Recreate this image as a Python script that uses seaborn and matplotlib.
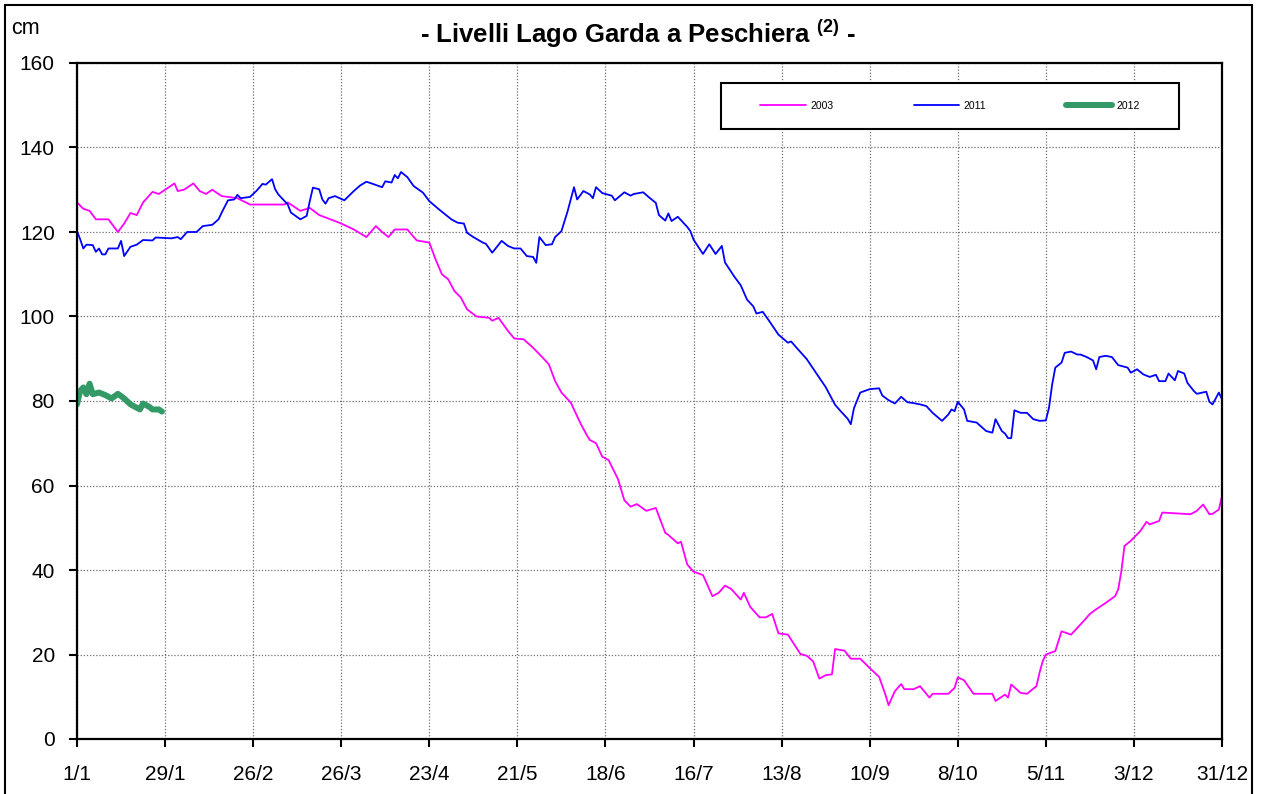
"""Livelli Lago Garda a Peschiera: confronto 2003 / 2011 / 2012."""

import matplotlib
matplotlib.use("Agg")
import matplotlib.pyplot as plt
from matplotlib.patches import Rectangle
import seaborn as sns

# Dati (giorno dell'anno, livello in cm)
days_2003 = [0, 2, 4, 6, 10, 13, 15, 17, 19, 21, 24, 26, 29, 31, 32, 34, 37, 39, 41, 43,
             46, 51, 55, 66, 67, 71, 74, 77, 82, 84, 88, 92, 95, 97, 99, 101, 105, 108,
             112, 114, 116, 118, 120, 122, 124, 127, 131, 132, 134, 137, 139, 142, 145,
             148, 150, 152, 154, 157, 160, 162, 163, 165, 167, 169, 172, 174, 176, 178,
             181, 184, 187, 188, 191, 192, 194, 196, 199, 202, 204, 206, 208, 211, 212,
             214, 217, 219, 221, 223, 226, 230, 232, 234, 236, 238, 240, 241, 244, 246,
             249, 252, 255, 257, 258, 260, 262, 263, 266, 268, 271, 272, 277, 279, 280,
             282, 285, 291, 292, 295, 296, 297, 300, 302, 305, 306, 307, 308, 311, 313,
             316, 318, 320, 322, 324, 327, 330, 331, 332, 333, 335, 338, 340, 341, 344,
             345, 354, 356, 358, 360, 361, 363, 364]
level_2003 = [127, 125.5, 125, 123, 123, 120, 122, 124.5, 124, 127, 129.5, 129, 130.5, 131.5,
              129.7, 130, 131.5, 129.7, 129, 130, 128.5, 128, 126.5, 126.5, 127, 125, 125.7,
              124, 122.6, 122, 120.6, 118.8, 121.4, 120, 118.8, 120.6, 120.6, 118, 117.5,
              113.5, 110, 108.8, 106, 104.5, 101.7, 100, 99.7, 99, 99.7, 96.6, 94.8, 94.6,
              92.6, 90.3, 88.7, 84.7, 82, 79.6, 74.8, 72, 70.8, 70, 66.8, 66, 61.5, 56.5, 55,
              55.6, 54, 54.7, 48.8, 48.3, 46.3, 46.7, 41.3, 39.6, 38.8, 33.8, 34.6, 36.3, 35.5,
              33, 34.6, 31.3, 28.8, 28.8, 29.6, 25, 24.7, 20.1, 19.7, 18.4, 14.3, 15.1, 15.3,
              21.3, 20.9, 19, 19, 16.8, 14.7, 10.5, 8, 11.3, 13, 11.8, 11.8, 12.5, 9.8, 10.7,
              10.7, 12.1, 14.6, 13.9, 10.7, 10.7, 9, 10.5, 9.8, 12.9, 10.9, 10.7, 12.5, 15.7,
              18.4, 20, 20.8, 25.5, 24.7, 26.3, 27.9, 29.6, 30.7, 32.2, 33.8, 35.4, 39.7, 45.7,
              46.9, 49.2, 51.4, 50.8, 51.6, 53.6, 53.2, 54, 55.5, 53.2, 53.3, 54.3, 57.5]

days_2011 = [0, 1, 2, 3, 5, 6, 7, 8, 9, 10, 13, 14, 15, 17, 19, 21, 24, 25, 30, 32, 33, 35,
             38, 40, 43, 45, 46, 48, 50, 51, 52, 55, 57, 59, 60, 62, 63, 64, 67, 68, 71, 73,
             74, 75, 77, 78, 79, 80, 82, 85, 88, 90, 92, 94, 97, 98, 100, 101, 102, 103, 105,
             107, 110, 112, 115, 117, 119, 121, 123, 124, 126, 129, 130, 132, 135, 137, 139,
             141, 143, 145, 146, 147, 149, 151, 152, 154, 156, 158, 159, 161, 163, 164, 165,
             167, 170, 171, 174, 176, 177, 180, 182, 184, 185, 187, 188, 189, 191, 194, 195,
             196, 199, 201, 203, 205, 206, 209, 211, 213, 215, 216, 218, 220, 223, 226, 227,
             229, 232, 235, 238, 241, 243, 245, 246, 247, 249, 252, 255, 256, 258, 260, 262,
             264, 266, 268, 270, 272, 275, 277, 278, 279, 280, 282, 283, 286, 289, 291, 292,
             294, 295, 296, 297, 298, 300, 302, 304, 306, 308, 309, 310, 311, 313, 314, 316,
             318, 319, 321, 323, 324, 325, 327, 329, 331, 333, 334, 335, 337, 339, 341, 343,
             344, 346, 347, 349, 350, 352, 353, 355, 356, 359, 360, 361, 363, 364]
level_2011 = [120.2, 118.3, 116.1, 117, 116.9, 115.3, 116.1, 114.7, 114.7, 116.1, 116.1, 117.9,
              114.3, 116.5, 117, 118.1, 118, 118.7, 118.5, 118.8, 118.3, 120, 120, 121.4, 121.7,
              123, 124.6, 127.5, 127.7, 128.8, 128, 128.3, 129.7, 131.4, 131.2, 132.5, 130.1,
              128.9, 126.5, 124.6, 123, 123.8, 127.3, 130.5, 130.1, 127.7, 126.7, 128, 128.5,
              127.5, 129.7, 131, 131.9, 131.4, 130.6, 132, 131.7, 133.5, 132.7, 134.2, 133,
              130.9, 129.3, 127.3, 125.4, 124.2, 123, 122.2, 122, 119.8, 118.8, 117.5, 117.2,
              115.1, 117.9, 116.7, 116.1, 116.1, 114.3, 114.1, 112.7, 118.8, 116.9, 117.1,
              118.8, 120.2, 125, 130.6, 127.7, 129.7, 128.9, 128, 130.6, 129.2, 128.6, 127.5,
              129.4, 128.6, 129, 129.4, 128.1, 126.9, 124, 122.7, 124.4, 122.6, 123.6, 121.2,
              120.2, 118.2, 114.8, 117.1, 114.8, 116.7, 112.8, 109.4, 107.4, 104, 102.4, 100.7,
              101.1, 99, 95.7, 93.8, 94.1, 92.4, 89.9, 86.6, 83.3, 79.1, 77.4, 75.8, 74.5,
              78.3, 82, 82.8, 83, 81.3, 80.2, 79.4, 81, 79.7, 79.5, 79.2, 78.8, 77.2, 75.3,
              76.8, 78, 77.6, 79.8, 78, 75.3, 74.9, 72.9, 72.5, 75.7, 72.9, 72.3, 71.2, 71.2,
              77.8, 77.2, 77.2, 75.7, 75.3, 75.4, 78.4, 83.9, 87.9, 89.1, 91.4, 91.7, 91, 91,
              90.4, 89.6, 87.5, 90.4, 90.7, 90.4, 88.5, 88.1, 87.9, 86.7, 87.5, 86.3, 85.7,
              86.2, 84.7, 84.7, 86.5, 84.9, 87.1, 86.5, 84.3, 82.4, 81.7, 82.2, 79.8, 79.2,
              82, 80.4]

days_2012 = [0, 1, 2, 3, 4, 5, 7, 9, 11, 13, 15, 17, 18, 20, 21, 23, 24, 26, 27]
level_2012 = [79.2, 82.4, 83.2, 81.6, 84.1, 81.6, 82, 81.4, 80.6, 81.7, 80.6, 79.2, 78.8,
              78, 79.4, 78.6, 78, 78, 77.5]

tick_days = [0, 28, 56, 84, 112, 140, 168, 196, 224, 252, 280, 308, 336, 364]
tick_labels = ["1/1", "29/1", "26/2", "26/3", "23/4", "21/5", "18/6", "16/7",
               "13/8", "10/9", "8/10", "5/11", "3/12", "31/12"]
y_ticks = [0, 20, 40, 60, 80, 100, 120, 140, 160]

sns.set_theme(style="white")
plt.rcParams["font.family"] = ["Liberation Sans", "DejaVu Sans"]
plt.rcParams["text.color"] = "black"
plt.rcParams["mathtext.fontset"] = "custom"
plt.rcParams["mathtext.rm"] = "Liberation Sans"
plt.rcParams["mathtext.bf"] = "Liberation Sans:bold"

fig = plt.figure(figsize=(12.63, 7.94), dpi=100)
ax = fig.add_axes([77 / 1263, 1 - 739 / 794, 1145 / 1263, 676 / 794])

sns.lineplot(x=days_2003, y=level_2003, ax=ax, color="#FF00FF", linewidth=1.3,
             estimator=None, label="2003", zorder=3)
sns.lineplot(x=days_2011, y=level_2011, ax=ax, color="#0000FF", linewidth=1.3,
             estimator=None, label="2011", zorder=3)
sns.lineplot(x=days_2012, y=level_2012, ax=ax, color="#339966", linewidth=4.3,
             estimator=None, label="2012", zorder=3)

ax.set_xlim(0, 364)
ax.set_ylim(0, 160)
ax.set_xticks(tick_days)
ax.set_xticklabels(tick_labels)
ax.set_yticks(y_ticks)
ax.set_xlabel("")
ax.set_ylabel("")
ax.tick_params(axis="both", direction="out", length=6, width=1.5, colors="black",
               labelsize=15, left=True, bottom=True)
ax.tick_params(axis="y", pad=10)
ax.tick_params(axis="x", pad=13)
ax.grid(True, color="#707070", linestyle=(0, (1, 1.5)), linewidth=0.9)
for spine in ax.spines.values():
    spine.set_color("black")
    spine.set_linewidth(1.6)
    spine.set_zorder(5)

# Riquadro della legenda
ax.add_patch(Rectangle((0.5624, 0.9024), 0.4, 0.068, transform=ax.transAxes,
                       facecolor="white", edgecolor="black", linewidth=1.5, zorder=6))
leg = ax.legend(loc="center", bbox_to_anchor=(0.7624, 0.9364), ncol=3, frameon=False,
                fontsize=7.5, handlelength=4.4, handletextpad=0.4, columnspacing=7.7,
                borderpad=0)
leg.set_zorder(7)

fig.text(638 / 1263, 1 - 34 / 794, r"- Livelli Lago Garda a Peschiera $^{\mathbf{(2)}}$ -",
         ha="center", va="center", fontsize=18.5, fontweight="bold", color="black")
fig.text(11 / 1263, 1 - 29 / 794, "cm", ha="left", va="center", fontsize=15.5,
         color="black")

# Cornice esterna
fig.add_artist(Rectangle((5 / 1263, -0.02), 1247 / 1263, 1.02 - 5 / 794,
                         transform=fig.transFigure, fill=False, edgecolor="black",
                         linewidth=1.5, clip_on=False))

fig.savefig("out.png", dpi=100)
